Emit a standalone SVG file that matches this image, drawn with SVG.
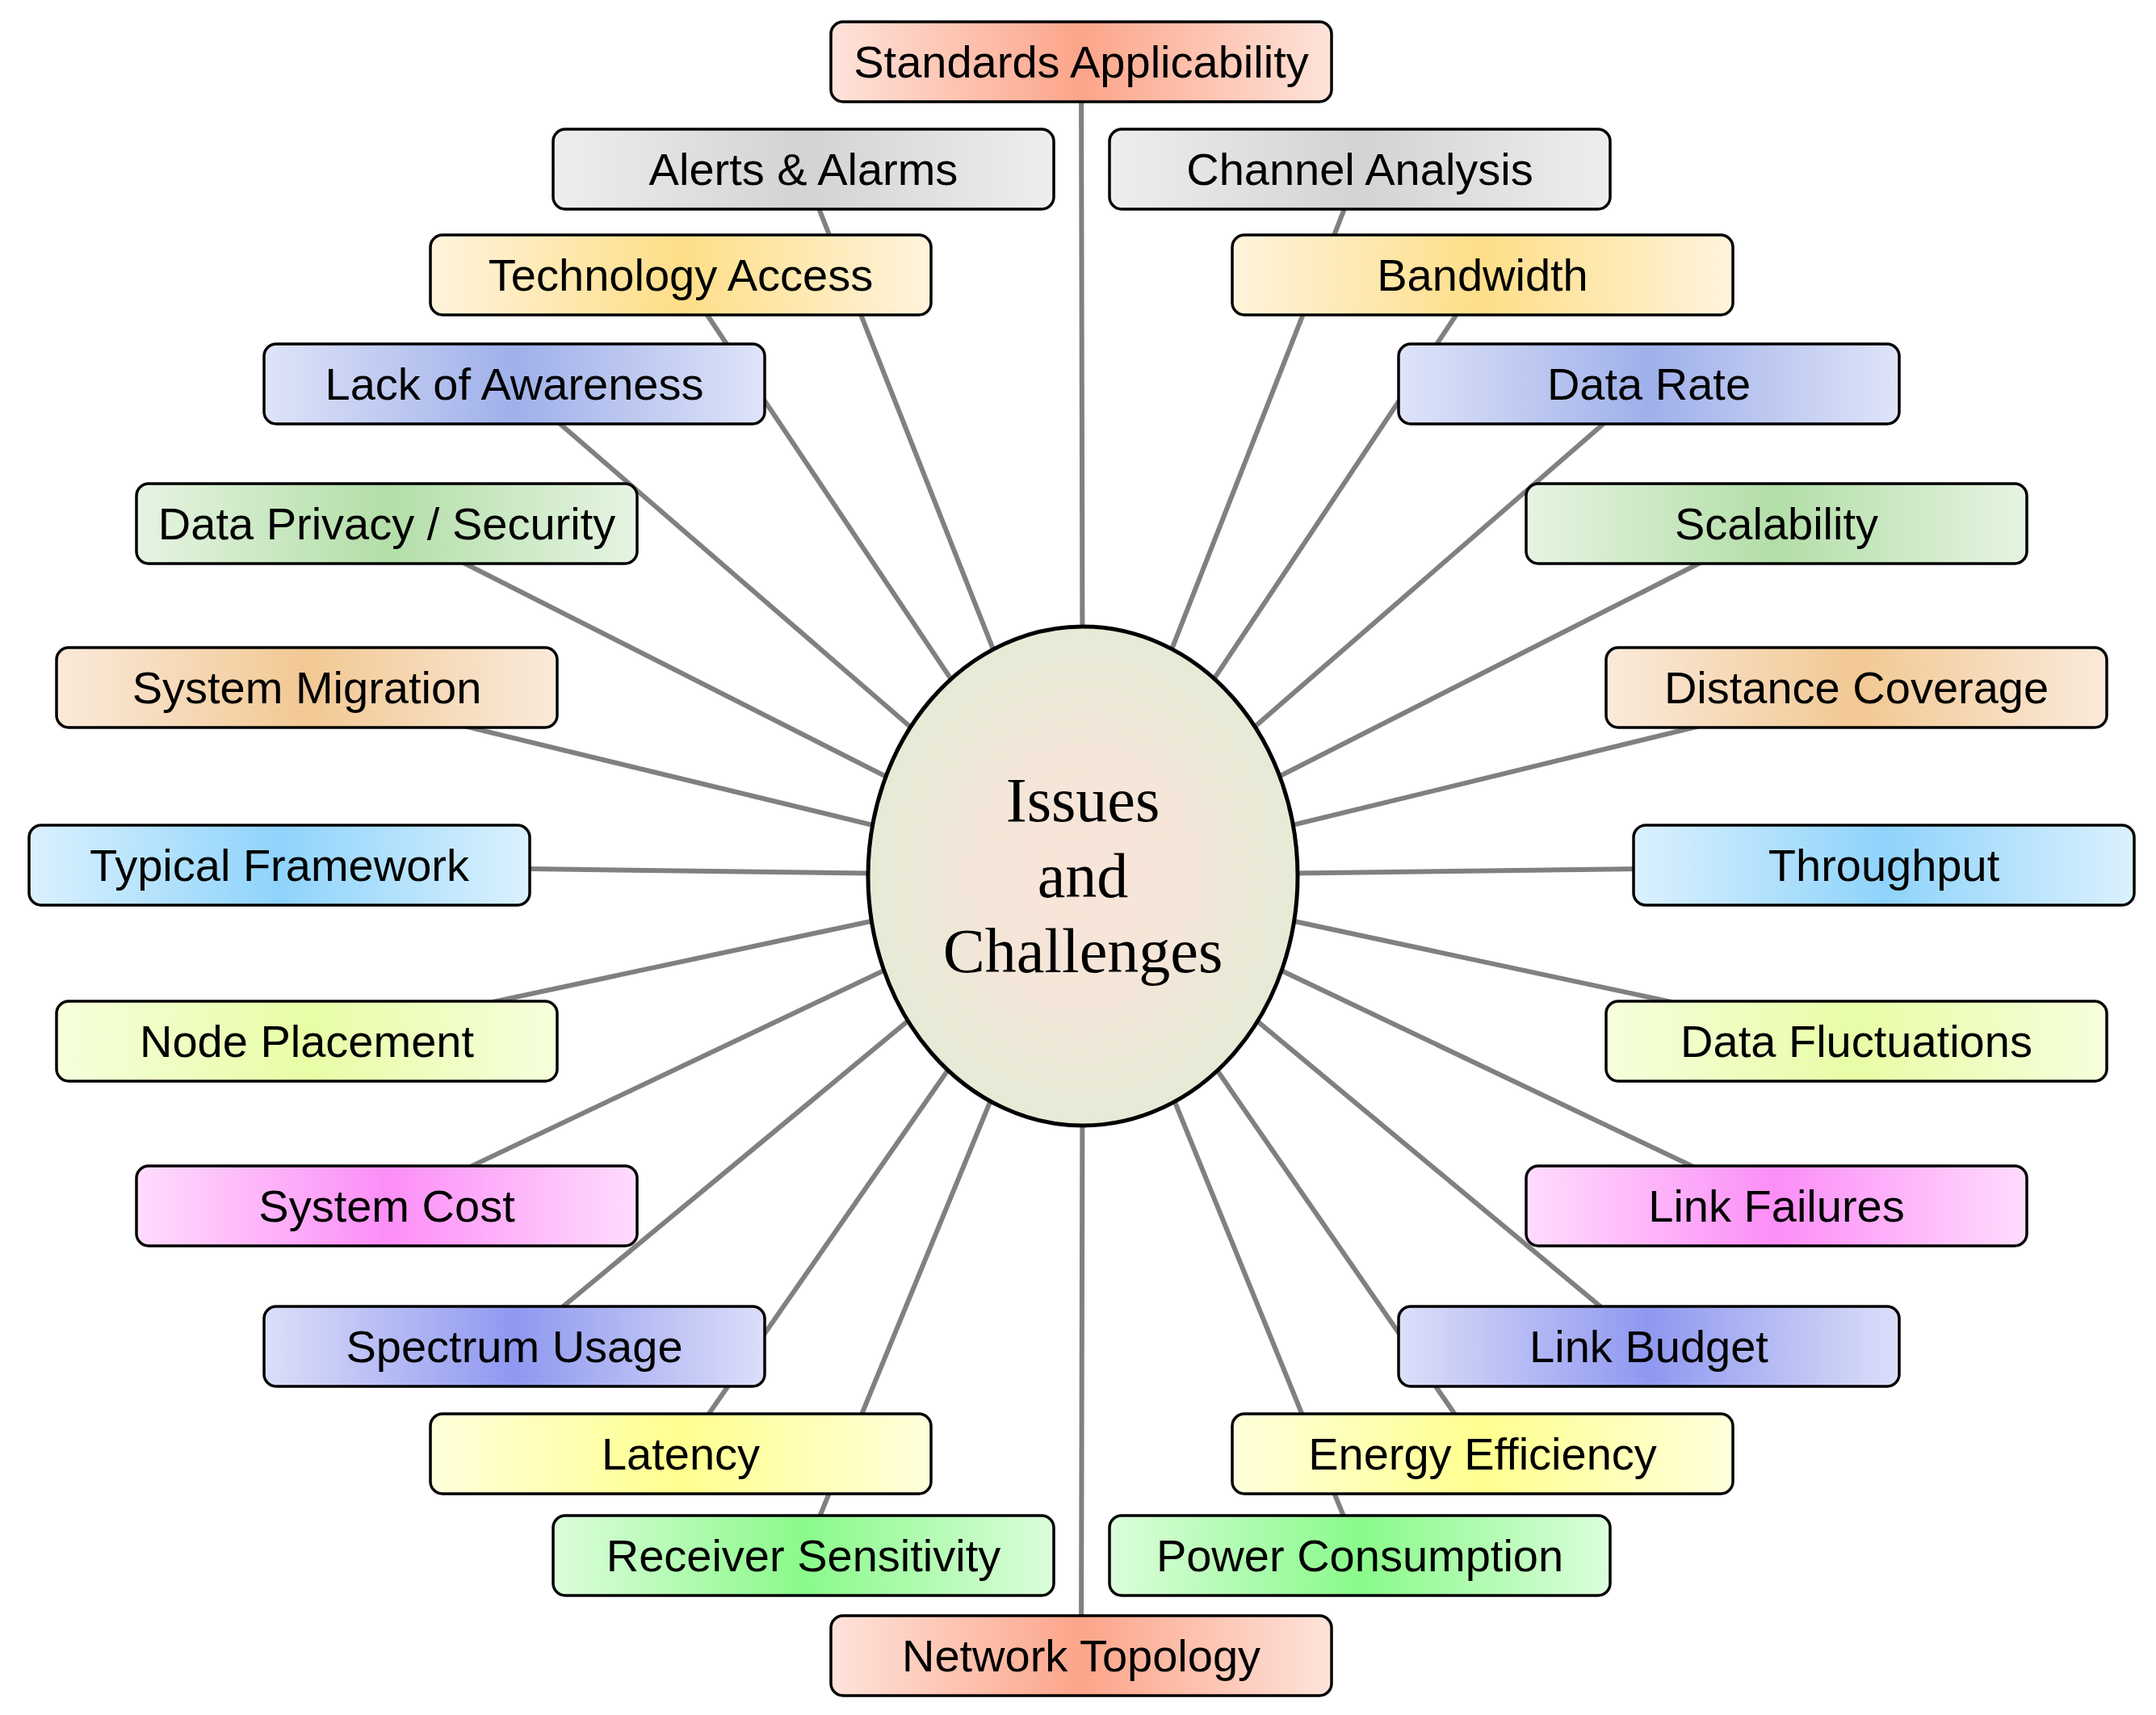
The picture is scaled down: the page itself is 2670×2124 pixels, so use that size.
<svg xmlns="http://www.w3.org/2000/svg" width="2670" height="2124" viewBox="0 0 2670 2124">
<defs>
<linearGradient id="g1"><stop offset="0" stop-color="#fee3da"/><stop offset="0.5" stop-color="#fca58a"/><stop offset="1" stop-color="#fee3da"/></linearGradient>
<linearGradient id="g2"><stop offset="0" stop-color="#eeeeee"/><stop offset="0.5" stop-color="#d3d3d3"/><stop offset="1" stop-color="#eeeeee"/></linearGradient>
<linearGradient id="g3"><stop offset="0" stop-color="#fff4dc"/><stop offset="0.5" stop-color="#fede88"/><stop offset="1" stop-color="#fff4dc"/></linearGradient>
<linearGradient id="g4"><stop offset="0" stop-color="#dfe4f8"/><stop offset="0.5" stop-color="#9fb0ea"/><stop offset="1" stop-color="#dfe4f8"/></linearGradient>
<linearGradient id="g5"><stop offset="0" stop-color="#e6f4e2"/><stop offset="0.5" stop-color="#b3dea8"/><stop offset="1" stop-color="#e6f4e2"/></linearGradient>
<linearGradient id="g6"><stop offset="0" stop-color="#faeadb"/><stop offset="0.5" stop-color="#f2c893"/><stop offset="1" stop-color="#faeadb"/></linearGradient>
<linearGradient id="g7"><stop offset="0" stop-color="#dbf1fe"/><stop offset="0.5" stop-color="#8fd3fb"/><stop offset="1" stop-color="#dbf1fe"/></linearGradient>
<linearGradient id="g8"><stop offset="0" stop-color="#f5ffdc"/><stop offset="0.5" stop-color="#e8fda6"/><stop offset="1" stop-color="#f5ffdc"/></linearGradient>
<linearGradient id="g9"><stop offset="0" stop-color="#ffdcfd"/><stop offset="0.5" stop-color="#fc8ef7"/><stop offset="1" stop-color="#ffdcfd"/></linearGradient>
<linearGradient id="g10"><stop offset="0" stop-color="#dcdff9"/><stop offset="0.5" stop-color="#8f98f0"/><stop offset="1" stop-color="#dcdff9"/></linearGradient>
<linearGradient id="g11"><stop offset="0" stop-color="#ffffdc"/><stop offset="0.5" stop-color="#ffff8f"/><stop offset="1" stop-color="#ffffdc"/></linearGradient>
<linearGradient id="g12"><stop offset="0" stop-color="#dcfddc"/><stop offset="0.5" stop-color="#8afa8a"/><stop offset="1" stop-color="#dcfddc"/></linearGradient>
<radialGradient id="gc"><stop offset="0" stop-color="#f8e4d8"/><stop offset="0.5" stop-color="#f4e6d8"/><stop offset="1" stop-color="#e5ebd6"/></radialGradient>
</defs>
<style>
.b{stroke:#000;stroke-width:3.5}
.t{font-family:"Liberation Sans",Arial,sans-serif;font-size:56px;text-anchor:middle;fill:#000}
.c{font-family:"Liberation Serif","Times New Roman",serif;font-size:78px;text-anchor:middle;fill:#000}
#edges line{stroke:#808080;stroke-width:6}
</style>
<rect width="2670" height="2124" fill="#fff"/>
<g id="edges">
<line x1="1341" y1="1085" x2="1339" y2="77"/>
<line x1="1341" y1="1085" x2="995" y2="210"/>
<line x1="1341" y1="1085" x2="1684" y2="210"/>
<line x1="1341" y1="1085" x2="843" y2="341"/>
<line x1="1341" y1="1085" x2="1836" y2="341"/>
<line x1="1341" y1="1085" x2="637" y2="476"/>
<line x1="1341" y1="1085" x2="2042" y2="476"/>
<line x1="1341" y1="1085" x2="479" y2="649"/>
<line x1="1341" y1="1085" x2="2200" y2="649"/>
<line x1="1341" y1="1085" x2="380" y2="852"/>
<line x1="1341" y1="1085" x2="2299" y2="852"/>
<line x1="1341" y1="1085" x2="346" y2="1072"/>
<line x1="1341" y1="1085" x2="2333" y2="1072"/>
<line x1="1341" y1="1085" x2="380" y2="1290"/>
<line x1="1341" y1="1085" x2="2299" y2="1290"/>
<line x1="1341" y1="1085" x2="479" y2="1494"/>
<line x1="1341" y1="1085" x2="2200" y2="1494"/>
<line x1="1341" y1="1085" x2="637" y2="1668"/>
<line x1="1341" y1="1085" x2="2042" y2="1668"/>
<line x1="1341" y1="1085" x2="843" y2="1801"/>
<line x1="1341" y1="1085" x2="1836" y2="1801"/>
<line x1="1341" y1="1085" x2="995" y2="1927"/>
<line x1="1341" y1="1085" x2="1684" y2="1927"/>
<line x1="1341" y1="1085" x2="1339" y2="2051"/>
</g>
<g id="center"><ellipse cx="1341" cy="1085" rx="266" ry="309" fill="url(#gc)" stroke="#000" stroke-width="5"/>
<text class="c" x="1341" y="1017">Issues</text><text class="c" x="1341" y="1111">and</text><text class="c" x="1341" y="1204">Challenges</text></g>
<g id="n1"><rect class="b" x="1029" y="27" width="620" height="99" rx="15" fill="url(#g1)"/><text class="t" x="1339" y="96">Standards Applicability</text></g>
<g id="n2"><rect class="b" x="685" y="160" width="620" height="99" rx="15" fill="url(#g2)"/><text class="t" x="995" y="229">Alerts &amp; Alarms</text></g>
<g id="n3"><rect class="b" x="1374" y="160" width="620" height="99" rx="15" fill="url(#g2)"/><text class="t" x="1684" y="229">Channel Analysis</text></g>
<g id="n4"><rect class="b" x="533" y="291" width="620" height="99" rx="15" fill="url(#g3)"/><text class="t" x="843" y="360">Technology Access</text></g>
<g id="n5"><rect class="b" x="1526" y="291" width="620" height="99" rx="15" fill="url(#g3)"/><text class="t" x="1836" y="360">Bandwidth</text></g>
<g id="n6"><rect class="b" x="327" y="426" width="620" height="99" rx="15" fill="url(#g4)"/><text class="t" x="637" y="495">Lack of Awareness</text></g>
<g id="n7"><rect class="b" x="1732" y="426" width="620" height="99" rx="15" fill="url(#g4)"/><text class="t" x="2042" y="495">Data Rate</text></g>
<g id="n8"><rect class="b" x="169" y="599" width="620" height="99" rx="15" fill="url(#g5)"/><text class="t" x="479" y="668">Data Privacy / Security</text></g>
<g id="n9"><rect class="b" x="1890" y="599" width="620" height="99" rx="15" fill="url(#g5)"/><text class="t" x="2200" y="668">Scalability</text></g>
<g id="n10"><rect class="b" x="70" y="802" width="620" height="99" rx="15" fill="url(#g6)"/><text class="t" x="380" y="871">System Migration</text></g>
<g id="n11"><rect class="b" x="1989" y="802" width="620" height="99" rx="15" fill="url(#g6)"/><text class="t" x="2299" y="871">Distance Coverage</text></g>
<g id="n12"><rect class="b" x="36" y="1022" width="620" height="99" rx="15" fill="url(#g7)"/><text class="t" x="346" y="1091">Typical Framework</text></g>
<g id="n13"><rect class="b" x="2023" y="1022" width="620" height="99" rx="15" fill="url(#g7)"/><text class="t" x="2333" y="1091">Throughput</text></g>
<g id="n14"><rect class="b" x="70" y="1240" width="620" height="99" rx="15" fill="url(#g8)"/><text class="t" x="380" y="1309">Node Placement</text></g>
<g id="n15"><rect class="b" x="1989" y="1240" width="620" height="99" rx="15" fill="url(#g8)"/><text class="t" x="2299" y="1309">Data Fluctuations</text></g>
<g id="n16"><rect class="b" x="169" y="1444" width="620" height="99" rx="15" fill="url(#g9)"/><text class="t" x="479" y="1513">System Cost</text></g>
<g id="n17"><rect class="b" x="1890" y="1444" width="620" height="99" rx="15" fill="url(#g9)"/><text class="t" x="2200" y="1513">Link Failures</text></g>
<g id="n18"><rect class="b" x="327" y="1618" width="620" height="99" rx="15" fill="url(#g10)"/><text class="t" x="637" y="1687">Spectrum Usage</text></g>
<g id="n19"><rect class="b" x="1732" y="1618" width="620" height="99" rx="15" fill="url(#g10)"/><text class="t" x="2042" y="1687">Link Budget</text></g>
<g id="n20"><rect class="b" x="533" y="1751" width="620" height="99" rx="15" fill="url(#g11)"/><text class="t" x="843" y="1820">Latency</text></g>
<g id="n21"><rect class="b" x="1526" y="1751" width="620" height="99" rx="15" fill="url(#g11)"/><text class="t" x="1836" y="1820">Energy Efficiency</text></g>
<g id="n22"><rect class="b" x="685" y="1877" width="620" height="99" rx="15" fill="url(#g12)"/><text class="t" x="995" y="1946">Receiver Sensitivity</text></g>
<g id="n23"><rect class="b" x="1374" y="1877" width="620" height="99" rx="15" fill="url(#g12)"/><text class="t" x="1684" y="1946">Power Consumption</text></g>
<g id="n24"><rect class="b" x="1029" y="2001" width="620" height="99" rx="15" fill="url(#g1)"/><text class="t" x="1339" y="2070">Network Topology</text></g>
</svg>
